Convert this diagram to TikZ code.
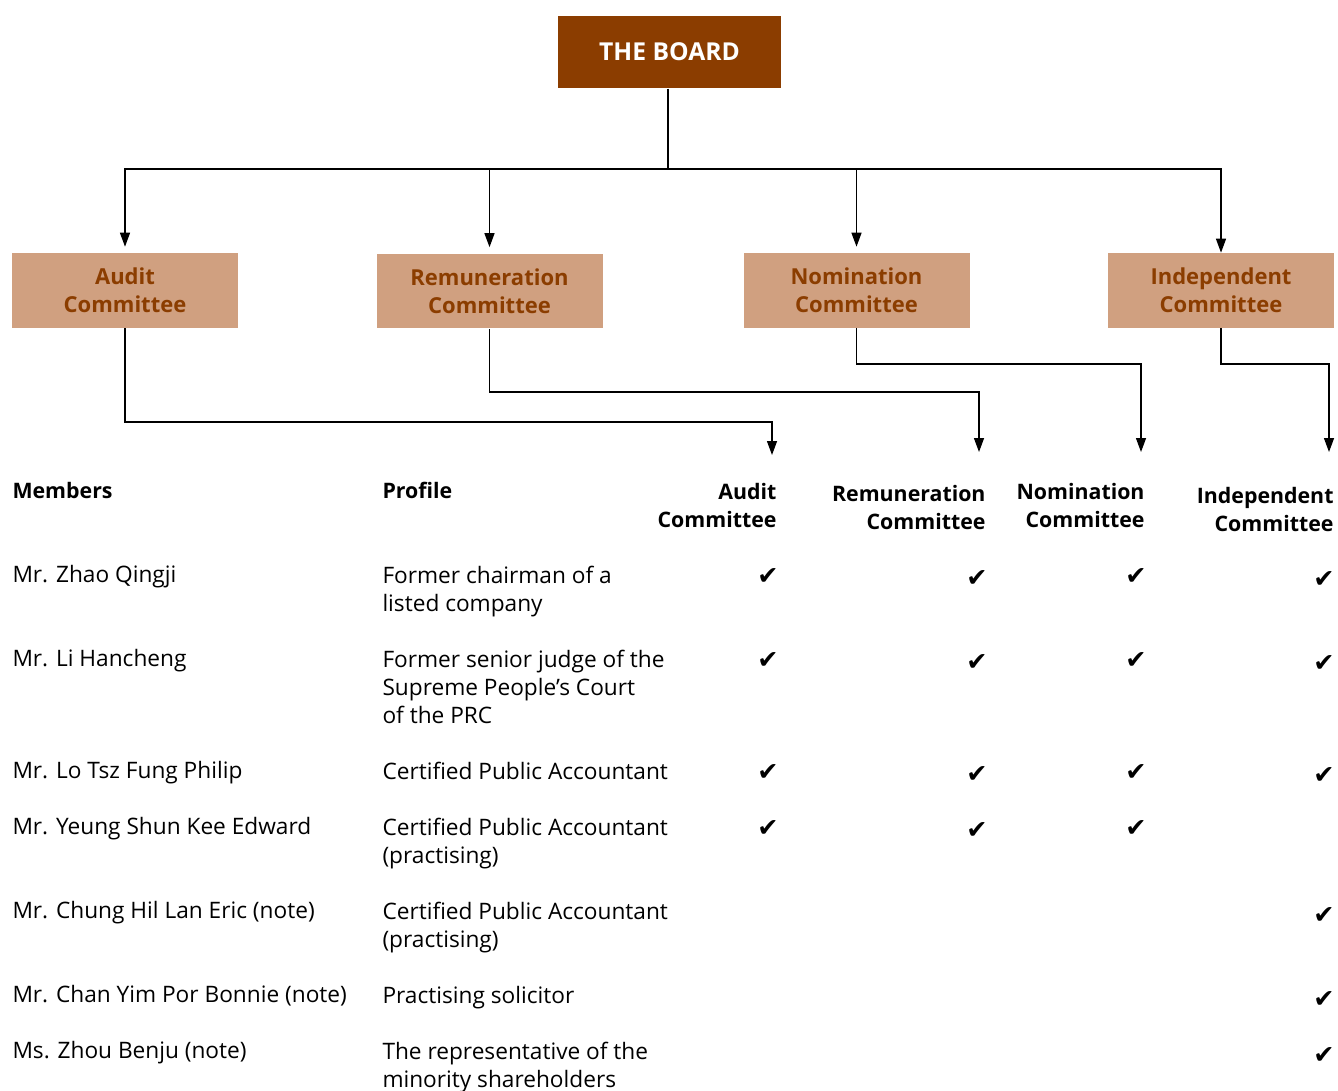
\documentclass[tikz,border=0pt]{standalone}
\usepackage{fontspec}
\setmainfont{Open Sans}
\newfontfamily\tickfont{DejaVu Sans}
\usetikzlibrary{arrows.meta}
\definecolor{boardbrown}{RGB}{139,61,0}
\definecolor{cmtfill}{RGB}{208,160,128}
\tikzset{every picture/.style={line width=0.75pt}}
\newcommand{\tick}{{\tickfont\char"2714}}

\begin{document}
\begin{tikzpicture}[x=0.75pt,y=0.75pt,yscale=-1,xscale=1,
  board/.style={fill=boardbrown,text=white,font=\fontsize{18.5}{21}\selectfont\bfseries,minimum width=167.25pt,minimum height=54pt,inner sep=0pt},
  cmtbox/.style={fill=cmtfill,text=boardbrown,font=\fontsize{16.5}{21}\selectfont\bfseries,align=center,minimum width=169.5pt,minimum height=56pt,inner sep=0pt},
  link/.style={line width=1pt,-{Triangle[length=10.5pt,width=7.5pt]}},
  body/.style={font=\fontsize{17}{21}\selectfont,inner sep=0pt,align=left},
  head/.style={font=\fontsize{16}{21}\selectfont\bfseries,inner sep=0pt},
  tickmark/.style={font=\fontsize{19}{21}\selectfont,inner sep=0pt}]
\useasboundingbox (0,0) rectangle (1338,1090);

% Boxes
\node[board] (board) at (669.5,52) {THE BOARD};
\node[cmtbox] (audit) at (125,290.5) {Audit\\Committee};
\node[cmtbox] (remun) at (489.5,291) {Remuneration\\Committee};
\node[cmtbox] (nomin) at (856.5,290.5) {Nomination\\Committee};
\node[cmtbox] (indep) at (1221,290.5) {Independent\\Committee};

% Board to committees
\coordinate (split) at (668,169);
\draw[line width=1pt] (board.south -| split) -- (split);
\draw[link,shorten >=4.5pt] (split) -| (audit.north);
\draw[link,shorten >=4.5pt] (split) -| (remun.north);
\draw[link,shorten >=4.5pt] (split) -| (nomin.north);
\draw[link] (split) -| (indep.north);

% Committees to table columns
\coordinate (acol) at (772,455);
\coordinate (rcol) at (979,452);
\coordinate (ncol) at (1141,452);
\coordinate (icol) at (1329,452);
\draw[link] (audit.south) -- (audit.south |- 0,422) -| (acol);
\draw[link] (remun.south) -- (remun.south |- 0,392) -| (rcol);
\draw[link] (nomin.south) -- (nomin.south |- 0,364) -| (ncol);
\draw[link] (indep.south) -- (indep.south |- 0,364) -| (icol);

% Table head (base = last line)
\node[head,anchor=base west] (hmem) at (12,498) {Members};
\node[head,anchor=base west] (hpro) at (382,498) {Profile};
\node[head,anchor=base east,align=right] (haud) at (777,527) {Audit\\Committee};
\node[head,anchor=base east,align=right] (hrem) at (986,529) {Remuneration\\Committee};
\node[head,anchor=base east,align=right] (hnom) at (1145,527) {Nomination\\Committee};
\node[head,anchor=base east,align=right] (hind) at (1334,531) {Independent\\Committee};

% Members
\node[body,anchor=base west] (m1) at (12,582) {Mr. Zhao Qingji};
\node[body,anchor=base west] (m2) at (12,666) {Mr. Li Hancheng};
\node[body,anchor=base west] (m3) at (12,778) {Mr. Lo Tsz Fung Philip};
\node[body,anchor=base west] (m4) at (12,834) {Mr. Yeung Shun Kee Edward};
\node[body,anchor=base west] (m5) at (12,918) {Mr. Chung Hil Lan Eric (note)};
\node[body,anchor=base west] (m6) at (12,1002) {Mr. Chan Yim Por Bonnie (note)};
\node[body,anchor=base west] (m7) at (12,1058) {Ms. Zhou Benju (note)};

% Profiles (base = last line)
\node[body,anchor=base west] (p1) at (382,611) {Former chairman of a\\listed company};
\node[body,anchor=base west] (p2) at (382,723) {Former senior judge of the\\Supreme People’s Court\\of the PRC};
\node[body,anchor=base west] (p3) at (382,779) {Certified Public Accountant};
\node[body,anchor=base west] (p4) at (382,863) {Certified Public Accountant\\(practising)};
\node[body,anchor=base west] (p5) at (382,947) {Certified Public Accountant\\(practising)};
\node[body,anchor=base west] (p6) at (382,1003) {Practising solicitor};
\node[body,anchor=base west] (p7) at (382,1087) {The representative of the\\minority shareholders};

% Ticks
\foreach \y/\n in {576/1,660/2,772/3,828/4}{
  \node[tickmark] (ta\n) at (768,\y) {\tick};
  \node[tickmark] (tr\n) at (977,\y+2) {\tick};
  \node[tickmark] (tn\n) at (1136,\y) {\tick};
}
\foreach \y/\n in {579/1,663/2,775/3,915/5,999/6,1055/7}{
  \node[tickmark] (ti\n) at (1324,\y) {\tick};
}
\end{tikzpicture}
\end{document}
